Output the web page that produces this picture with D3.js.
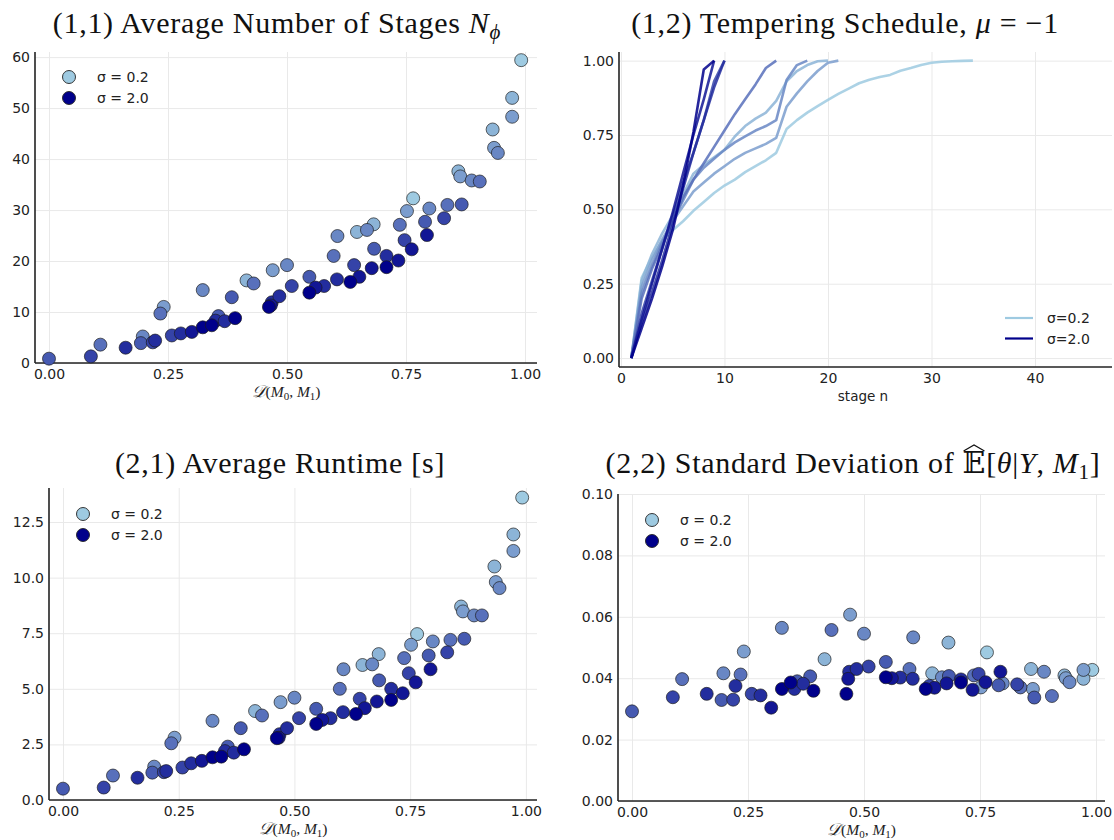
<!DOCTYPE html>
<html><head><meta charset="utf-8">
<script src="https://cdn.jsdelivr.net/npm/d3@7"></script>
<style>body{margin:0;background:#fff} svg{display:block}</style>
</head><body>
<svg id="c" width="1114" height="840"></svg>
<script>
// ---------------- DATA ----------------
const sigmaRange = [0.2, 2.0];
const legendSigmas = [0.2, 2.0];
// one entry per simulated model pair
const distance = [0.000,0.088,0.108,0.161,0.197,0.193,0.218,0.223,0.241,0.234,0.258,0.277,0.300,0.323,0.323,0.342,0.350,0.356,0.369,0.384,0.391,0.415,0.430,0.470,0.462,0.466,0.468,0.484,0.500,0.510,0.547,0.547,0.560,0.578,0.598,0.606,0.605,0.633,0.641,0.647,0.652,0.668,0.682,0.678,0.683,0.709,0.709,0.734,0.737,0.747,0.752,0.762,0.765,0.790,0.794,0.799,0.830,0.837,0.860,0.864,0.867,0.888,0.905,0.932,0.935,0.943,0.973,0.973,0.992];
const sigma = [1.2,1.4,1.0,1.6,0.8,1.2,1.4,1.6,0.6,1.0,1.4,1.6,1.8,0.8,2.0,2.0,1.6,1.2,1.6,1.2,2.0,0.4,1.0,0.6,2.0,1.8,1.6,1.6,0.8,1.4,1.2,2.0,1.8,1.6,1.0,0.8,1.6,2.0,1.4,0.4,1.8,0.8,0.4,1.8,1.2,1.6,2.0,1.8,1.0,1.4,0.6,1.8,0.2,1.2,1.8,0.8,1.4,1.0,0.4,0.6,1.2,0.8,1.0,0.4,0.6,0.8,0.4,0.6,0.2];
const avgStages = [0.85,1.3,3.6,3.0,5.2,3.9,4.05,4.4,11.0,9.7,5.4,5.8,6.1,14.3,7.0,7.4,8.3,9.2,8.2,12.9,8.8,16.2,15.6,18.2,11.0,11.3,11.9,13.1,19.2,15.1,16.9,13.8,14.8,15.1,21.0,24.9,16.4,15.9,19.2,25.7,16.9,26.1,27.2,18.6,22.4,21.0,18.8,20.1,27.1,24.1,29.8,22.3,32.3,27.7,25.1,30.3,28.4,31.0,37.6,36.6,31.1,35.8,35.6,45.8,42.2,41.2,52.0,48.3,59.4];
const avgRuntime = [0.51,0.56,1.1,1.0,1.5,1.23,1.25,1.3,2.8,2.55,1.46,1.65,1.76,3.56,1.92,1.95,2.2,2.4,2.13,3.23,2.28,4.0,3.8,4.4,2.78,2.8,2.96,3.23,4.6,3.68,4.1,3.42,3.6,3.68,5.0,5.88,3.95,3.87,4.55,6.07,4.13,6.1,6.56,4.43,5.38,5.0,4.5,4.8,6.38,5.7,6.98,5.29,7.46,6.5,5.88,7.13,6.64,7.2,8.7,8.48,7.25,8.3,8.3,10.5,9.8,9.53,11.94,11.2,13.6];
const sdEstimate = [0.0292,0.0338,0.0397,0.0349,0.0416,0.0329,0.0330,0.0375,0.0487,0.0412,0.0349,0.0344,0.0304,0.0564,0.0365,0.0386,0.0365,0.0390,0.0382,0.0406,0.0359,0.0462,0.0557,0.0607,0.0349,0.0398,0.0421,0.0430,0.0545,0.0438,0.0453,0.0403,0.0400,0.0402,0.0430,0.0533,0.0398,0.0365,0.0375,0.0416,0.0369,0.0403,0.0516,0.0383,0.0407,0.0396,0.0386,0.0362,0.0409,0.0414,0.0370,0.0387,0.0484,0.0377,0.0421,0.0383,0.0380,0.0370,0.0430,0.0365,0.0337,0.0421,0.0342,0.0409,0.0400,0.0387,0.0398,0.0427,0.0427];

// tempering schedules phi_n, stage n = 1,2,...
const scheduleSigma = [0.2, 0.4, 0.6, 0.8, 1.0, 1.4, 1.6, 1.8, 2.0];
const schedules = [
  [0,0.27,0.34,0.395,0.43,0.46,0.495,0.525,0.555,0.58,0.60,0.625,0.645,0.665,0.69,0.77,0.80,0.825,0.847,0.868,0.888,0.906,0.924,0.936,0.945,0.952,0.966,0.975,0.985,0.993,0.996,0.998,0.999,1.0],
  [0,0.26,0.35,0.42,0.48,0.55,0.62,0.65,0.675,0.70,0.745,0.78,0.805,0.825,0.865,0.93,0.965,0.985,0.998,1.0],
  [0,0.24,0.33,0.40,0.46,0.51,0.56,0.59,0.62,0.645,0.67,0.69,0.705,0.72,0.74,0.845,0.89,0.93,0.965,0.993,1.0],
  [0,0.22,0.31,0.39,0.46,0.53,0.60,0.64,0.67,0.70,0.725,0.745,0.765,0.78,0.80,0.935,0.985,1.0],
  [0,0.20,0.30,0.38,0.46,0.54,0.60,0.655,0.71,0.765,0.82,0.87,0.92,0.975,1.0],
  [0,0.15,0.26,0.37,0.48,0.59,0.69,0.80,0.93,1.0],
  [0,0.12,0.22,0.33,0.45,0.57,0.69,0.80,0.91,1.0],
  [0,0.13,0.25,0.37,0.49,0.62,0.75,0.87,1.0],
  [0,0.10,0.20,0.31,0.43,0.58,0.76,0.97,1.0]
];

const distTicks = [0, 0.25, 0.5, 0.75, 1.0];
const stagesTicks = [0, 10, 20, 30, 40, 50, 60];
const runtimeTicks = [0, 2.5, 5, 7.5, 10, 12.5];
const sdTicks = [0, 0.02, 0.04, 0.06, 0.08, 0.10];
const stageNTicks = [0, 10, 20, 30, 40];
const phiTicks = [0, 0.25, 0.5, 0.75, 1.0];

// ---------------- DRAWING ----------------
const svg = d3.select("#c");
const SANS = "'DejaVu Sans', sans-serif";
const SERIF = "'Liberation Serif', 'DejaVu Serif', serif";
const color = d3.scaleLinear().domain(sigmaRange).range(["#9ecae1", "#00008b"]).interpolate(d3.interpolateRgb);

function frame(g, x, y, xt, yt, xf, yf) {
  const [y0, y1] = y.range(), [x0, x1] = x.range();
  const gx = g.append("g").attr("transform", `translate(0,${y0})`)
    .call(d3.axisBottom(x).tickValues(xt).tickFormat(xf).tickSizeInner(-(y0 - y1)).tickSizeOuter(0).tickPadding(6));
  const gy = g.append("g").attr("transform", `translate(${x0},0)`)
    .call(d3.axisLeft(y).tickValues(yt).tickFormat(yf).tickSizeInner(-(x1 - x0)).tickSizeOuter(0).tickPadding(5));
  [gx, gy].forEach(a => {
    a.select(".domain").remove();
    a.selectAll(".tick line").attr("stroke", "#e9e9e9").attr("stroke-width", 1);
    a.selectAll(".tick text").attr("font-family", SANS).attr("font-size", 14).attr("fill", "#222");
  });
  g.append("line").attr("x1", x0).attr("x2", x1).attr("y1", y0).attr("y2", y0).attr("stroke", "#222").attr("stroke-width", 1.6);
  g.append("line").attr("x1", x0).attr("x2", x0).attr("y1", y0).attr("y2", y1).attr("stroke", "#222").attr("stroke-width", 1.6);
}

function distLabel(g, cx, by) {
  const t = g.append("text").attr("x", cx).attr("y", by).attr("text-anchor", "middle")
    .attr("font-family", SERIF).attr("font-size", 15.5).attr("fill", "#222");
  t.append("tspan").attr("font-style", "italic").attr("font-size", 17).text("𝒟");
  t.append("tspan").text("(");
  t.append("tspan").attr("font-style", "italic").text("M");
  t.append("tspan").attr("font-size", 11).attr("dy", 3).text("0");
  t.append("tspan").attr("dy", -3).text(", ");
  t.append("tspan").attr("font-style", "italic").text("M");
  t.append("tspan").attr("font-size", 11).attr("dy", 3).text("1");
  t.append("tspan").attr("dy", -3).text(")");
}

function scatterLegend(g, mx, my, tx) {
  legendSigmas.forEach((s, i) => {
    g.append("circle").attr("cx", mx).attr("cy", my + i * 21).attr("r", 6.5)
      .attr("fill", color(s)).attr("stroke", "#222").attr("stroke-width", 0.9);
    g.append("text").attr("x", tx).attr("y", my + i * 21 + 5).attr("font-family", SANS)
      .attr("font-size", 14).attr("fill", "#222").text(`σ = ${s.toFixed(1)}`);
  });
}

function scatterPanel(rect, xDom, yDom, yt, yf, vals, leg) {
  const g = svg.append("g");
  const x = d3.scaleLinear().domain(xDom).range([rect.l, rect.r]);
  const y = d3.scaleLinear().domain(yDom).range([rect.b, rect.t]);
  frame(g, x, y, distTicks, yt, d3.format(".2f"), yf);
  const idx = d3.range(distance.length).sort((a, b) => sigma[a] - sigma[b]);
  g.append("g").selectAll("circle").data(idx).join("circle")
    .attr("cx", i => x(distance[i])).attr("cy", i => y(vals[i])).attr("r", 6.5)
    .attr("fill", i => color(sigma[i])).attr("stroke", "#1a1a1a").attr("stroke-width", 0.8).attr("stroke-opacity", 0.85);
  scatterLegend(g, leg[0], leg[1], leg[2]);
  distLabel(g, (rect.l + rect.r) / 2, rect.b + 34);
  return g;
}

scatterPanel({l: 35, r: 537, t: 52, b: 363}, [-0.0294, 1.0252], [0, 61.0], stagesTicks, d3.format("d"), avgStages, [69, 77, 97]);
scatterPanel({l: 49, r: 537, t: 488, b: 800}, [-0.0302, 1.024], [0, 14.03], runtimeTicks, d3.format(".1f"), avgRuntime, [83, 514, 111]);
scatterPanel({l: 618, r: 1105, t: 494, b: 801}, [-0.0302, 1.0194], [0, 0.10], sdTicks, d3.format(".2f"), sdEstimate, [652, 520, 680]);

// tempering schedule panel
(function () {
  const rect = {l: 619, r: 1112, t: 52, b: 367};
  const g = svg.append("g");
  const x = d3.scaleLinear().domain([-0.19, 47.44]).range([rect.l, rect.r]);
  const y = d3.scaleLinear().domain([-0.030, 1.029]).range([rect.b, rect.t]);
  frame(g, x, y, stageNTicks, phiTicks, d3.format("d"), d3.format(".2f"));
  const line = d3.line().x((d, i) => x(i + 1)).y(d => y(d));
  g.append("g").selectAll("path").data(schedules).join("path")
    .attr("d", line).attr("fill", "none").attr("stroke-width", 2.6).attr("stroke-linejoin", "round")
    .attr("stroke", (d, i) => color(scheduleSigma[i])).attr("stroke-opacity", 0.85);
  legendSigmas.forEach((s, i) => {
    g.append("line").attr("x1", 1005).attr("x2", 1033).attr("y1", 318 + i * 20.5).attr("y2", 318 + i * 20.5)
      .attr("stroke", color(s)).attr("stroke-width", 2.2);
    g.append("text").attr("x", 1047).attr("y", 323 + i * 20.5).attr("font-family", SANS)
      .attr("font-size", 14).attr("fill", "#222").text(`σ=${s.toFixed(1)}`);
  });
  g.append("text").attr("x", 863).attr("y", 401).attr("text-anchor", "middle").attr("font-family", SANS)
    .attr("font-size", 13.5).attr("fill", "#222").text("stage n");
})();

// titles
function title(cx, by) {
  return svg.append("text").attr("x", cx).attr("y", by).attr("text-anchor", "middle")
    .attr("font-family", SERIF).attr("font-size", 30).attr("letter-spacing", 0.7).attr("fill", "#111");
}
let t1 = title(277, 33);
t1.append("tspan").text("(1,1) Average Number of Stages ");
t1.append("tspan").attr("font-style", "italic").text("N");
t1.append("tspan").attr("font-style", "italic").attr("font-size", 21).attr("dy", 6).text("ϕ");

let t2 = title(845, 33);
t2.append("tspan").text("(1,2) Tempering Schedule, ");
t2.append("tspan").attr("font-style", "italic").text("μ");
t2.append("tspan").text(" = −1");

let t3 = title(280, 473);
t3.append("tspan").text("(2,1) Average Runtime [s]");

let t4 = title(853, 473);
t4.append("tspan").text("(2,2) Standard Deviation of ");
t4.append("tspan").text("𝔼");
t4.append("tspan").text("[");
t4.append("tspan").attr("font-style", "italic").text("θ");
t4.append("tspan").text("|");
t4.append("tspan").attr("font-style", "italic").text("Y");
t4.append("tspan").text(", ");
t4.append("tspan").attr("font-style", "italic").text("M");
t4.append("tspan").attr("font-size", 21).attr("dy", 6).text("1");
t4.append("tspan").attr("dy", -6).text("]");
// wide hat over the expectation symbol
(function () {
  const node = t4.node();
  const full = node.textContent;
  const k = full.indexOf("𝔼");
  const s = node.getStartPositionOfChar(k);
  const e = node.getEndPositionOfChar(k);
  const x0 = s.x, x1 = e.x - 0.7, mid = (x0 + x1) / 2;
  svg.append("path").attr("d", `M${x0 + 1},${451} L${mid},${445} L${x1 - 1},${451}`)
    .attr("fill", "none").attr("stroke", "#111").attr("stroke-width", 1.2);
})();
</script>
</body></html>
